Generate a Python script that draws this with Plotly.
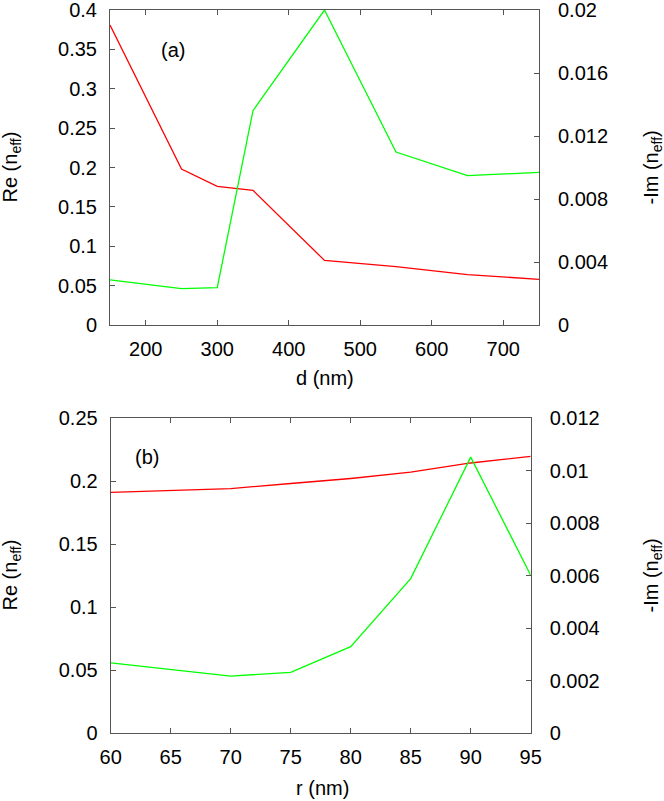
import plotly.graph_objects as go

W, H = 664, 801

# panel (a): thickness d
d_nm = [150, 250, 300, 350, 450, 550, 650, 750]
re_a = [0.381, 0.198, 0.176, 0.171, 0.082, 0.074, 0.064, 0.058]
im_a = [0.00286, 0.00231, 0.00237, 0.01361, 0.0200, 0.01098, 0.00948, 0.00969]

# panel (b): radius r
r_nm = [60, 65, 70, 75, 80, 85, 90, 95]
re_b = [0.191, 0.1925, 0.194, 0.198, 0.202, 0.207, 0.2143, 0.2196]
im_b = [0.00267, 0.00243, 0.00217, 0.00231, 0.00329, 0.00588, 0.01051, 0.00601]

xt_a = [200, 300, 400, 500, 600, 700]
yt_a = [0, 0.05, 0.1, 0.15, 0.2, 0.25, 0.3, 0.35, 0.4]
yt_a_txt = ["0", "0.05", "0.1", "0.15", "0.2", "0.25", "0.3", "0.35", "0.4"]
y2t_a = [0, 0.004, 0.008, 0.012, 0.016, 0.02]
y2t_a_txt = ["0", "0.004", "0.008", "0.012", "0.016", "0.02"]

xt_b = [60, 65, 70, 75, 80, 85, 90, 95]
yt_b = [0, 0.05, 0.1, 0.15, 0.2, 0.25]
yt_b_txt = ["0", "0.05", "0.1", "0.15", "0.2", "0.25"]
y2t_b = [0, 0.002, 0.004, 0.006, 0.008, 0.01, 0.012]
y2t_b_txt = ["0", "0.002", "0.004", "0.006", "0.008", "0.01", "0.012"]

RED, GREEN = "#ff0000", "#00ff00"
FONT = dict(family="Liberation Sans, Arial, sans-serif", size=20, color="black")
AX = "#555555"


def px(x):
    return x / W


def py(y):
    return 1 - y / H


fig = go.Figure()
fig.add_trace(go.Scatter(x=d_nm, y=re_a, mode="lines", line=dict(color=RED, width=1.3),
                         xaxis="x", yaxis="y"))
fig.add_trace(go.Scatter(x=d_nm, y=im_a, mode="lines", line=dict(color=GREEN, width=1.3),
                         xaxis="x", yaxis="y2"))
fig.add_trace(go.Scatter(x=r_nm, y=re_b, mode="lines", line=dict(color=RED, width=1.3),
                         xaxis="x2", yaxis="y3"))
fig.add_trace(go.Scatter(x=r_nm, y=im_b, mode="lines", line=dict(color=GREEN, width=1.3),
                         xaxis="x2", yaxis="y4"))

common = dict(showline=True, linecolor=AX, linewidth=1, ticks="inside", ticklen=5,
              tickcolor=AX, tickwidth=1, showgrid=False, zeroline=False,
              tickfont=FONT, automargin=False, ticklabeloverflow="allow")

dom_xa = [px(110), px(539)]
dom_ya = [py(325), py(10)]
dom_xb = [px(110.7), px(530.7)]
dom_yb = [py(733), py(418)]

fig.update_layout(
    width=W, height=H,
    margin=dict(l=0, r=0, t=0, b=0),
    paper_bgcolor="white", plot_bgcolor="white",
    showlegend=False,
    font=FONT,
    xaxis=dict(domain=dom_xa, range=[150, 750], tickvals=xt_a, mirror="ticks",
               anchor="y", ticklabelstandoff=6, **common),
    yaxis=dict(domain=dom_ya, range=[0, 0.4], tickvals=yt_a, ticktext=yt_a_txt,
               anchor="x", ticklabelstandoff=8, **common),
    yaxis2=dict(domain=dom_ya, range=[0, 0.02], tickvals=y2t_a, ticktext=y2t_a_txt,
                overlaying="y", side="right", anchor="x", ticklabelstandoff=14, **common),
    xaxis2=dict(domain=dom_xb, range=[60, 95], tickvals=xt_b, mirror="ticks",
                anchor="y3", ticklabelstandoff=6, **common),
    yaxis3=dict(domain=dom_yb, range=[0, 0.25], tickvals=yt_b, ticktext=yt_b_txt,
                anchor="x2", ticklabelstandoff=8, **common),
    yaxis4=dict(domain=dom_yb, range=[0, 0.012], tickvals=y2t_b, ticktext=y2t_b_txt,
                overlaying="y3", side="right", anchor="x2", ticklabelstandoff=14, **common),
)

ann = [
    dict(text="(a)", x=238, y=0.349, xref="x", yref="y"),
    dict(text="(b)", x=63, y=0.219, xref="x2", yref="y3"),
    dict(text="d (nm)", x=px(324.5), y=py(378), xref="paper", yref="paper"),
    dict(text="r (nm)", x=px(322), y=py(788), xref="paper", yref="paper"),
    dict(text="Re (n<sub>eff</sub>)", x=px(11), y=py(167.5), xref="paper", yref="paper", textangle=-90),
    dict(text="-Im (n<sub>eff</sub>)", x=px(652), y=py(167.5), xref="paper", yref="paper", textangle=-90),
    dict(text="Re (n<sub>eff</sub>)", x=px(11), y=py(575.5), xref="paper", yref="paper", textangle=-90),
    dict(text="-Im (n<sub>eff</sub>)", x=px(652), y=py(575.5), xref="paper", yref="paper", textangle=-90),
]
for a in ann:
    fig.add_annotation(showarrow=False, font=FONT, xanchor="center", yanchor="middle", **a)

# page body has an 8px default margin; drop it so the figure sits at the origin
fig.write_html("out.html", config={"displayModeBar": False},
               post_script="document.body.style.margin='0';")
